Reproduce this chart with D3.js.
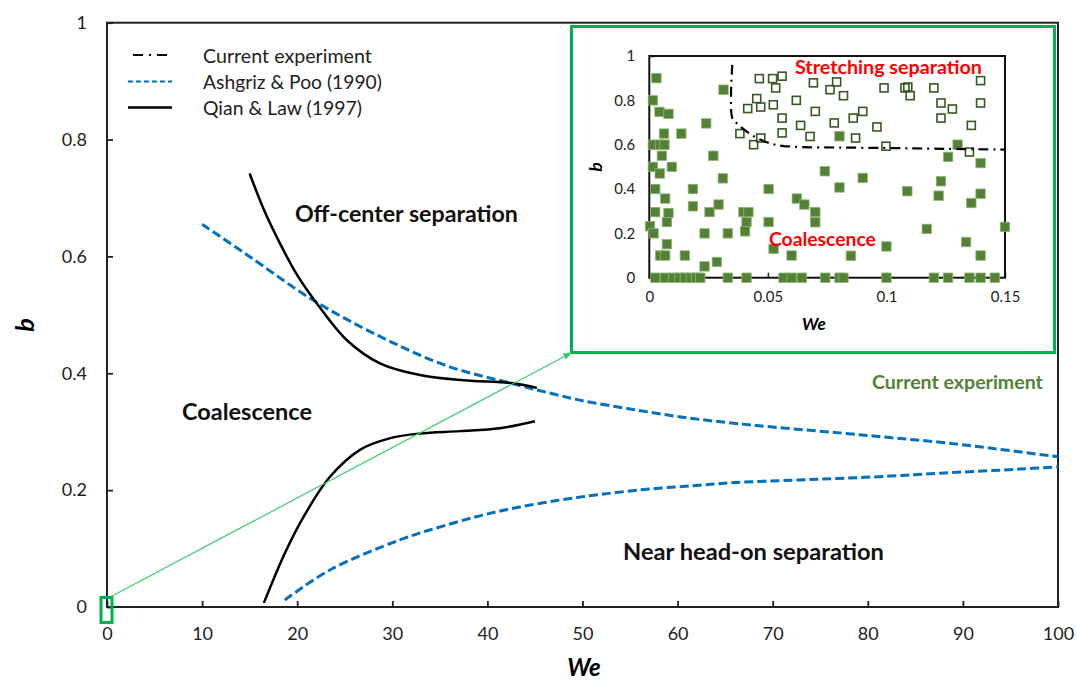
<!DOCTYPE html>
<html><head><meta charset="utf-8">
<script src="https://cdn.jsdelivr.net/npm/d3@7"></script>
<style>body{margin:0;background:#fff} text{font-family:Lato,"Open Sans",sans-serif}</style>
</head><body>
<script>
// ---------- data ----------
const mainXTicks = [0,10,20,30,40,50,60,70,80,90,100];
const mainYTicks = [0,0.2,0.4,0.6,0.8,1];
const insetXTicks = [0,0.05,0.1,0.15];
const insetYTicks = [0,0.2,0.4,0.6,0.8,1];

const qianUpper = [[15.0,0.742],[16.5,0.68],[18.2,0.622],[20,0.568],[22.05,0.52],[25.2,0.457],[28.7,0.417],[32.9,0.397],[37.5,0.388],[42.7,0.383],[45.2,0.375]];
const qianLower = [[16.5,0.007],[18.7,0.092],[20.8,0.158],[23.4,0.222],[26.6,0.269],[29.8,0.289],[32.9,0.297],[37.1,0.301],[41.3,0.306],[45,0.318]];
const ashgrizUpper = [[10,0.655],[14.7,0.603],[21.7,0.525],[28.7,0.463],[35.7,0.413],[42.7,0.382],[47.6,0.362],[50,0.353],[55,0.339],[60,0.326],[65,0.316],[70,0.308],[77,0.298],[82.3,0.29],[87.6,0.282],[92.8,0.272],[100,0.257]];
const ashgrizLower = [[18.7,0.012],[23.4,0.063],[30.8,0.115],[35,0.137],[39.2,0.156],[43,0.17],[47.6,0.183],[52,0.193],[57.1,0.202],[62,0.208],[66,0.213],[72,0.217],[77,0.22],[82.3,0.224],[87.6,0.229],[96,0.236],[100,0.24]];

const currentExp = [[0.035,0.96],[0.035,0.72],[0.037,0.695],[0.040,0.668],[0.043,0.645],[0.047,0.622],[0.052,0.603],[0.056,0.595],[0.065,0.589],[0.08,0.587],[0.1,0.585],[0.12,0.582],[0.15,0.578]];

const coalescencePts = [
 [0.003,0.9],[0.0015,0.8],[0.0043,0.748],[0.0081,0.739],[0.0313,0.848],[0.024,0.696],[0.0062,0.65],[0.0135,0.65],
 [0.0015,0.6],[0.0045,0.6],[0.0064,0.6],[0.0053,0.55],[0.027,0.55],[0.0015,0.5],[0.0095,0.5],[0.0044,0.47],[0.031,0.448],
 [0.0025,0.4],[0.0067,0.357],[0.0184,0.4],[0.0503,0.4],[0.0025,0.296],[0.0081,0.292],[0.0074,0.251],[0.0184,0.322],
 [0.0254,0.296],[0.0292,0.33],[0.0397,0.296],[0.0418,0.296],[0.041,0.251],[0.0404,0.209],[0.0503,0.251],[0.0003,0.232],
 [0.0018,0.2],[0.0233,0.2],[0.0331,0.2],[0.0074,0.151],[0.0046,0.1],[0.0067,0.1],[0.015,0.1],[0.0233,0.051],[0.0285,0.071],
 [0.0524,0.13],[0.06,0.1],[0.0622,0.357],[0.0654,0.33],[0.07,0.296],[0.07,0.25],
 [0.0025,0],[0.0067,0],[0.0102,0],[0.0127,0],[0.015,0],[0.0175,0],[0.0197,0],[0.0215,0],[0.0331,0],[0.041,0],
 [0.0566,0],[0.06,0],[0.0643,0],[0.0742,0],[0.0802,0],[0.0819,0],[0.1,0],[0.12,0],[0.126,0],[0.135,0],[0.1397,0],[0.1457,0],
 [0.0802,0.407],[0.09,0.45],[0.1088,0.39],[0.123,0.435],[0.122,0.37],[0.1397,0.379],[0.1358,0.337],[0.15,0.229],
 [0.117,0.22],[0.1,0.141],[0.085,0.099],[0.1336,0.161],[0.1397,0.1],
 [0.0802,0.638],[0.13,0.6],[0.126,0.545],[0.1397,0.517],[0.074,0.48]
];
const stretchingPts = [
 [0.0692,0.879],[0.079,0.883],[0.0762,0.848],[0.0819,0.821],[0.099,0.856],[0.1078,0.856],[0.109,0.86],[0.11,0.821],
 [0.12,0.856],[0.1397,0.889],[0.07,0.75],[0.123,0.788],[0.1278,0.761],[0.123,0.72],[0.1397,0.788],[0.078,0.698],
 [0.086,0.72],[0.09,0.75],[0.096,0.68],[0.1358,0.687],[0.0678,0.637],[0.087,0.63],[0.0998,0.593],[0.135,0.567],
 [0.0464,0.898],[0.052,0.898],[0.056,0.909],[0.0533,0.856],[0.0453,0.808],[0.0415,0.763],[0.047,0.77],[0.0523,0.78],
 [0.062,0.80],[0.056,0.72],[0.0638,0.687],[0.056,0.653],[0.0382,0.65],[0.047,0.63],[0.044,0.60]
];
const legendLabels = ["Current experiment","Ashgriz & Poo (1990)","Qian & Law (1997)"];

// ---------- setup ----------
const W=1077,H=682;
const svg=d3.select("body").append("svg").attr("width",W).attr("height",H);
const x=d3.scaleLinear().domain([0,100]).range([107,1058]);
const y=d3.scaleLinear().domain([0,1]).range([607,22.7]);
const BLUE="#0070C0", GREEN="#00B050", DKGREEN="#548235";

function fit(t,w){const n=t.node();const fs=parseFloat(t.attr("font-size"));const l=n.getComputedTextLength();if(l>0)t.attr("font-size",fs*w/l);return t;}
const fmt=d=>d===0?"0":d===1?"1":String(+d.toFixed(2));

// main axes
const gx=svg.append("g").attr("transform",`translate(0,${y(0)})`)
  .call(d3.axisBottom(x).tickValues(mainXTicks).tickSize(-6).tickPadding(20).tickFormat(fmt));
const gy=svg.append("g").attr("transform",`translate(${x(0)},0)`)
  .call(d3.axisLeft(y).tickValues(mainYTicks).tickSize(-6).tickPadding(20).tickFormat(fmt));
[gx,gy].forEach(g=>{g.select(".domain").remove();g.selectAll("line").attr("stroke","#222").attr("stroke-width",1.8);
  g.selectAll("text").attr("font-size",18).attr("fill","#222").attr("font-family","Lato");});
svg.append("rect").attr("x",x(0)).attr("y",y(1)).attr("width",x(100)-x(0)).attr("height",y(0)-y(1))
  .attr("fill","none").attr("stroke","#222").attr("stroke-width",2);

// axis titles
svg.append("text").attr("x",584).attr("y",676).attr("text-anchor","middle")
  .attr("font-size",24).attr("font-weight","bold").attr("font-style","italic").text("We");
svg.append("text").attr("transform","translate(24,325) rotate(-90)").attr("text-anchor","middle").attr("dominant-baseline","central")
  .attr("font-size",25).attr("font-weight","bold").attr("font-style","italic").text("b");

// curves
const line=d3.line().x(d=>x(d[0])).y(d=>y(d[1])).curve(d3.curveCatmullRom.alpha(0.5));
[ashgrizUpper,ashgrizLower].forEach(d=>svg.append("path").attr("d",line(d)).attr("fill","none")
  .attr("stroke",BLUE).attr("stroke-width",3).attr("stroke-dasharray","9,4"));
[qianUpper,qianLower].forEach(d=>svg.append("path").attr("d",line(d)).attr("fill","none")
  .attr("stroke","#000").attr("stroke-width",2.5));

// region labels
function label(txt,x0,w,yc,size,color){
  const t=svg.append("text").attr("x",x0).attr("y",yc).attr("dominant-baseline","central")
    .attr("font-size",size).attr("font-weight","bold").attr("fill",color||"#111").text(txt);
  return fit(t,w);
}
label("Off-center separation",295,223,213,20);
label("Coalescence",182,130,411,20);
label("Near head-on separation",623,261,551,20);

// legend
const lg=svg.append("g");
legendLabels.forEach((s,i)=>{
  const yy=[55,81.5,107.5][i];
  const ln=lg.append("line").attr("x1",i===0?133:128).attr("x2",172).attr("y1",yy).attr("y2",yy);
  if(i===0) ln.attr("stroke","#000").attr("stroke-width",2.2).attr("stroke-dasharray","10,6,2,6");
  if(i===1) ln.attr("stroke",BLUE).attr("stroke-width",2).attr("stroke-dasharray","5,3");
  if(i===2) ln.attr("stroke","#000").attr("stroke-width",2.5);
  const t=lg.append("text").attr("x",203).attr("y",yy).attr("dominant-baseline","central").attr("font-size",17).attr("fill","#222").text(s);
  fit(t,[169,179,159][i]);
});

// inset
svg.append("rect").attr("x",571.5).attr("y",26.5).attr("width",483).attr("height",326)
  .attr("fill","#fff").attr("stroke",GREEN).attr("stroke-width",3);
const ix=d3.scaleLinear().domain([0,0.15]).range([649.3,1005]);
const iy=d3.scaleLinear().domain([0,1]).range([277.7,56]);
const ig=svg.append("g");
const igx=ig.append("g").attr("transform",`translate(0,${iy(0)})`)
  .call(d3.axisBottom(ix).tickValues(insetXTicks).tickSize(-5).tickPadding(14).tickFormat(fmt));
const igy=ig.append("g").attr("transform",`translate(${ix(0)},0)`)
  .call(d3.axisLeft(iy).tickValues(insetYTicks).tickSize(-5).tickPadding(14).tickFormat(fmt));
[igx,igy].forEach(g=>{g.select(".domain").remove();g.selectAll("line").attr("stroke","#222").attr("stroke-width",1.5);
  g.selectAll("text").attr("font-size",15).attr("fill","#222").attr("font-family","Lato");});
ig.append("rect").attr("x",ix(0)).attr("y",iy(1)).attr("width",ix(0.15)-ix(0)).attr("height",iy(0)-iy(1))
  .attr("fill","none").attr("stroke","#111").attr("stroke-width",2);

ig.selectAll(".fsq").data(coalescencePts).join("rect").attr("class","fsq")
  .attr("x",d=>ix(d[0])-4.7).attr("y",d=>iy(d[1])-4.7).attr("width",9.4).attr("height",9.4)
  .attr("fill",DKGREEN).attr("stroke","#8fb27a").attr("stroke-width",0.8);
ig.selectAll(".osq").data(stretchingPts).join("rect").attr("class","osq")
  .attr("x",d=>ix(d[0])-4).attr("y",d=>iy(d[1])-4).attr("width",8).attr("height",8)
  .attr("fill","none").attr("stroke","#385723").attr("stroke-width",1.6);
const iline=d3.line().x(d=>ix(d[0])).y(d=>iy(d[1])).curve(d3.curveCatmullRom);
ig.append("path").attr("d",iline(currentExp)).attr("fill","none").attr("stroke","#000")
  .attr("stroke-width",2.2).attr("stroke-dasharray","10,5,2,5");

ig.append("text").attr("x",814).attr("y",323).attr("text-anchor","middle").attr("dominant-baseline","central")
  .attr("font-size",17).attr("font-weight","bold").attr("font-style","italic").text("We");
ig.append("text").attr("transform","translate(595,167) rotate(-90)").attr("text-anchor","middle").attr("dominant-baseline","central")
  .attr("font-size",17).attr("font-weight","bold").attr("font-style","italic").text("b");
label("Stretching separation",795,187,66.7,16,"#FF0000");
label("Coalescence",769,107,238,16,"#FF0000");
label("Current experiment",872,171,381.7,18,DKGREEN);

// zoom marker & connector
svg.append("rect").attr("x",x(0)-6).attr("y",y(0)-9.5).attr("width",11).attr("height",25)
  .attr("fill","none").attr("stroke",GREEN).attr("stroke-width",3);
svg.append("defs").append("marker").attr("id","arr").attr("viewBox","0 0 10 10").attr("refX",9).attr("refY",5)
  .attr("markerWidth",7).attr("markerHeight",7).attr("orient","auto")
  .append("path").attr("d","M0,1 L10,5 L0,9 z").attr("fill","#2ecc71");
svg.append("line").attr("x1",x(0)+5).attr("y1",y(0)-11).attr("x2",571).attr("y2",353)
  .attr("stroke","#3ccf6e").attr("stroke-width",1.2).attr("marker-end","url(#arr)");
</script>
</body></html>
